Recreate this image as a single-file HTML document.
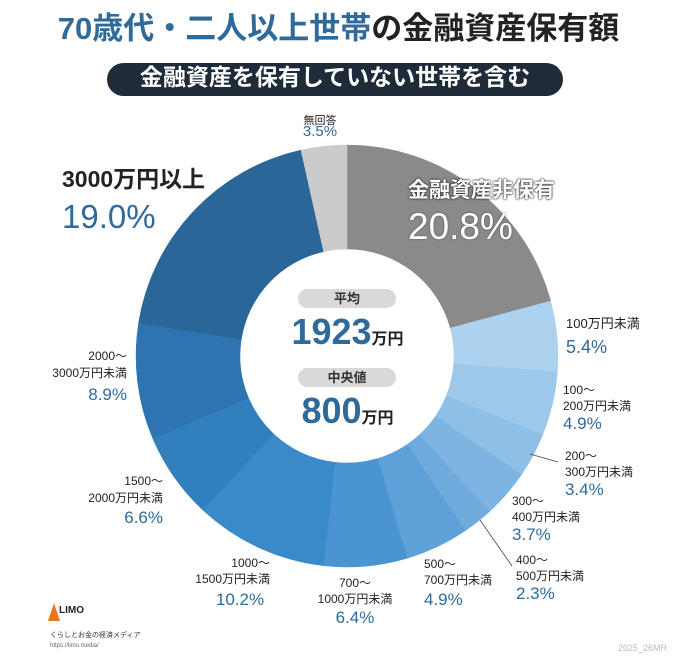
<!DOCTYPE html>
<html><head><meta charset="utf-8"><style>
body{margin:0;width:677px;height:660px;background:#fff;overflow:hidden;position:relative;font-family:"Liberation Sans","Noto Sans CJK JP",sans-serif;color:#222}
.t{position:absolute;line-height:1;white-space:nowrap}
.s{font-size:12px;color:#222}
.p{color:#2f6a9b}
.r{text-align:right}
.c{text-align:center}
</style></head><body>
<div class="t" style="left:0;width:677px;top:13px;text-align:center;font-size:31px;font-weight:bold"><span style="color:#2f6a9b">70歳代・二人以上世帯</span><span style="color:#222">の金融資産保有額</span></div>
<div style="position:absolute;left:107px;top:63px;width:456px;height:33px;background:#1f2b38;border-radius:17px"></div>
<div class="t" style="left:107px;width:456px;top:66px;text-align:center;font-size:23px;color:#fff;font-weight:bold">金融資産を保有していない世帯を含む</div>

<svg id="pie" style="position:absolute;left:0;top:0" width="677" height="660"></svg>
<svg style="position:absolute;left:0;top:0" width="677" height="660">
<line x1="530" y1="454" x2="558" y2="462" stroke="#444" stroke-width="0.8"/>
<line x1="480" y1="520" x2="512" y2="566" stroke="#444" stroke-width="0.8"/>
<rect x="298" y="289" width="98" height="19" rx="9.5" fill="#d9d9d9"/>
<rect x="298" y="368" width="98" height="19" rx="9.5" fill="#d9d9d9"/>
</svg>
<div class="t c" style="left:298px;width:98px;top:292px;font-size:13px;font-weight:bold;color:#333">平均</div>
<div class="t c" style="left:260px;width:175px;top:314px;font-size:36px;font-weight:bold;color:#2f6a9b">1923<span style="font-size:16px;color:#222">万円</span></div>
<div class="t c" style="left:298px;width:98px;top:371px;font-size:13px;font-weight:bold;color:#333">中央値</div>
<div class="t c" style="left:260px;width:175px;top:393px;font-size:36px;font-weight:bold;color:#2f6a9b">800<span style="font-size:16px;color:#222">万円</span></div>

<div class="t c s" style="left:290px;width:60px;top:116px;font-size:11px">無回答</div>
<div class="t c p" style="left:290px;width:60px;top:124px;font-size:15px">3.5%</div>
<div class="t" style="left:62px;top:168px;font-size:23px;font-weight:bold;color:#222">3000万円以上</div>
<div class="t p" style="left:62px;top:200px;font-size:33px">19.0%</div>
<div class="t" style="left:408px;top:180px;font-size:21px;font-weight:bold;color:#fff;text-shadow:0 0 2px #333,0 0 2px #333">金融資産非保有</div>
<div class="t" style="left:408px;top:208px;font-size:37px;color:#fff;text-shadow:0 0 2px #555">20.8%</div>

<div class="t s" style="left:566px;top:317px;font-size:13px">100万円未満</div>
<div class="t p" style="left:566px;top:338px;font-size:18px">5.4%</div>
<div class="t s" style="left:563px;top:384px">100〜</div>
<div class="t s" style="left:563px;top:400px">200万円未満</div>
<div class="t p" style="left:563px;top:415px;font-size:17px">4.9%</div>
<div class="t s" style="left:565px;top:450px">200〜</div>
<div class="t s" style="left:565px;top:466px">300万円未満</div>
<div class="t p" style="left:565px;top:481px;font-size:17px">3.4%</div>
<div class="t s" style="left:512px;top:495px">300〜</div>
<div class="t s" style="left:512px;top:511px">400万円未満</div>
<div class="t p" style="left:512px;top:526px;font-size:17px">3.7%</div>
<div class="t s" style="left:516px;top:554px">400〜</div>
<div class="t s" style="left:516px;top:570px">500万円未満</div>
<div class="t p" style="left:516px;top:585px;font-size:17px">2.3%</div>
<div class="t s" style="left:424px;top:558px">500〜</div>
<div class="t s" style="left:424px;top:574px">700万円未満</div>
<div class="t p" style="left:424px;top:591px;font-size:17px">4.9%</div>
<div class="t c s" style="left:305px;width:100px;top:577px">700〜</div>
<div class="t c s" style="left:305px;width:100px;top:593px">1000万円未満</div>
<div class="t c p" style="left:305px;width:100px;top:609px;font-size:17px">6.4%</div>
<div class="t r s" style="left:170px;width:100px;top:557px">1000〜</div>
<div class="t r s" style="left:170px;width:100px;top:573px">1500万円未満</div>
<div class="t c p" style="left:190px;width:100px;top:591px;font-size:17px">10.2%</div>
<div class="t r s" style="left:63px;width:100px;top:475px">1500〜</div>
<div class="t r s" style="left:63px;width:100px;top:492px">2000万円未満</div>
<div class="t r p" style="left:63px;width:100px;top:509px;font-size:17px">6.6%</div>
<div class="t r s" style="left:27px;width:100px;top:350px">2000〜</div>
<div class="t r s" style="left:27px;width:100px;top:367px">3000万円未満</div>
<div class="t r p" style="left:27px;width:100px;top:386px;font-size:17px">8.9%</div>

<svg style="position:absolute;left:48px;top:603px" width="12" height="18"><polygon points="6,0 12,18 0,18" fill="#e8771e"/></svg>
<div class="t" style="left:59px;top:606px;font-size:10px;font-weight:bold;color:#222">LIMO</div>
<div class="t" style="left:50px;top:632px;font-size:7px;color:#333">くらしとお金の経済メディア</div>
<div class="t" style="left:50px;top:643px;font-size:6px;color:#666">https://limo.media/</div>
<div class="t" style="left:618px;top:644px;font-size:9px;color:#bbb">2025_26MR</div>

<script>
var d=[[20.8,"#8a8a8a"],[5.4,"#acd2ef"],[4.9,"#9dc8ea"],[3.4,"#8ebfe6"],[3.7,"#7db4e0"],[2.3,"#6eabdc"],[4.9,"#5ea1d8"],[6.4,"#4a95d1"],[10.2,"#3a8ac9"],[6.6,"#327fbe"],[8.9,"#2d74b0"],[19.0,"#2a6698"],[3.5,"#cbcbcb"]];
var cx=347,cy=356,R=211,r=107,a=0,s="";
function pt(rad,ang){return [cx+rad*Math.sin(ang),cy-rad*Math.cos(ang)];}
d.forEach(function(e){var a2=a+e[0]/100*2*Math.PI,l=(a2-a)>Math.PI?1:0;
var p1=pt(R,a),p2=pt(R,a2),p3=pt(r,a2),p4=pt(r,a);
s+='<path d="M'+p1+' A'+R+' '+R+' 0 '+l+' 1 '+p2+' L'+p3+' A'+r+' '+r+' 0 '+l+' 0 '+p4+' Z" fill="'+e[1]+'" stroke="'+e[1]+'" stroke-width="0.5"/>';a=a2;});
document.getElementById("pie").innerHTML=s;
</script>
</body></html>
